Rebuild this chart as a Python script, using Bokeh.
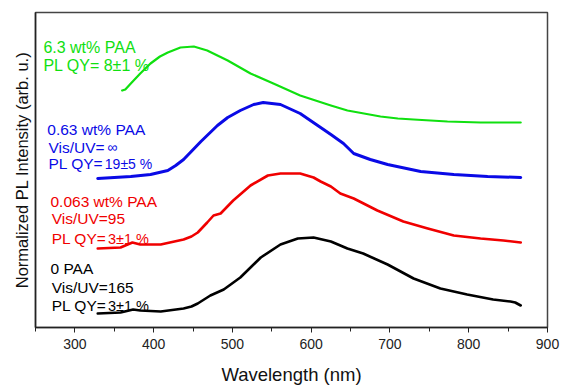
from bokeh.plotting import figure
from bokeh.models import Label, FixedTicker, Range1d
from bokeh.embed import file_html
from bokeh.resources import INLINE

# ---- data (wavelength in nm, normalized PL intensity in arb. u., curves offset) ----
green_nm = [360, 364, 371, 383, 396, 408, 418, 434, 451, 468, 494, 523, 552, 586, 625, 646, 667, 688, 710, 730, 773, 815, 866]
green_I = [2.37, 2.38, 2.44, 2.54, 2.64, 2.71, 2.75, 2.80, 2.81, 2.77, 2.67, 2.54, 2.44, 2.32, 2.22, 2.17, 2.14, 2.11, 2.09, 2.08, 2.06, 2.05, 2.05]

blue_nm = [329, 371, 396, 418, 428, 438, 449, 460, 481, 494, 510, 527, 539, 561, 586, 612, 625, 641, 654, 675, 697, 739, 781, 824, 866]
blue_I = [1.49, 1.51, 1.53, 1.57, 1.62, 1.68, 1.77, 1.86, 2.02, 2.10, 2.17, 2.23, 2.25, 2.23, 2.14, 2.00, 1.93, 1.84, 1.74, 1.68, 1.63, 1.56, 1.53, 1.51, 1.50]

red_nm = [329, 358, 373, 383, 409, 438, 448, 456, 468, 476, 485, 501, 523, 545, 561, 586, 603, 612, 625, 637, 654, 684, 717, 748, 781, 815, 844, 866]
red_I = [0.79, 0.80, 0.85, 0.83, 0.83, 0.88, 0.91, 0.95, 1.05, 1.12, 1.14, 1.27, 1.42, 1.52, 1.54, 1.54, 1.50, 1.46, 1.41, 1.34, 1.29, 1.17, 1.06, 0.99, 0.92, 0.89, 0.87, 0.85]

black_nm = [329, 358, 374, 383, 409, 438, 448, 456, 472, 489, 510, 536, 561, 583, 603, 625, 646, 666, 697, 730, 764, 798, 831, 853, 859, 866]
black_I = [0.14, 0.15, 0.18, 0.17, 0.16, 0.19, 0.21, 0.24, 0.32, 0.38, 0.50, 0.70, 0.83, 0.89, 0.90, 0.86, 0.79, 0.74, 0.63, 0.49, 0.39, 0.33, 0.28, 0.26, 0.25, 0.22]

x_ticks = [300, 400, 500, 600, 700, 800, 900]
x_minor = [250, 350, 450, 550, 650, 750, 850]

series = [
    (green_nm, green_I, "#10e010", 2.2),
    (blue_nm, blue_I, "#0a0ae6", 3.0),
    (red_nm, red_I, "#f00000", 2.6),
    (black_nm, black_I, "#000000", 2.6),
]

FONT = "Liberation Sans"

p = figure(width=561, height=387, output_backend="svg", toolbar_location=None,
           x_range=Range1d(250, 900), y_range=Range1d(0, 3.15),
           min_border_left=35, min_border_right=14, min_border_top=12, min_border_bottom=60)
p.background_fill_color = "white"
p.border_fill_color = "white"
p.xgrid.visible = False
p.ygrid.visible = False
p.outline_line_color = "#444444"
p.outline_line_width = 1.5

for xs, ys, col, w in series:
    p.line(xs, ys, line_color=col, line_width=w, line_join="round", line_cap="round")

# x axis
p.xaxis.ticker = FixedTicker(ticks=x_ticks, minor_ticks=x_minor)
p.xaxis.major_tick_out = 5
p.xaxis.major_tick_in = 0
p.xaxis.minor_tick_out = 4
p.xaxis.minor_tick_in = 0
p.xaxis.axis_line_color = "#222222"
p.xaxis.axis_line_width = 1.5
p.xaxis.major_tick_line_color = "#222222"
p.xaxis.minor_tick_line_color = "#222222"
p.xaxis.major_label_text_font = FONT
p.xaxis.major_label_text_font_size = "14px"
p.xaxis.major_label_text_color = "#222222"
p.xaxis.major_label_standoff = 6
p.xaxis.axis_label = "Wavelength (nm)"
p.xaxis.axis_label_text_font = FONT
p.xaxis.axis_label_text_font_size = "18.5px"
p.xaxis.axis_label_text_font_style = "normal"
p.xaxis.axis_label_text_color = "#111111"
p.xaxis.axis_label_standoff = 12

# y axis (no ticks)
p.yaxis.ticker = FixedTicker(ticks=[])
p.yaxis.axis_line_color = "#222222"
p.yaxis.axis_line_width = 1.5
p.yaxis.axis_label = "Normalized PL Intensity (arb. u.)"
p.yaxis.axis_label_text_font = FONT
p.yaxis.axis_label_text_font_size = "16.5px"
p.yaxis.axis_label_text_font_style = "normal"
p.yaxis.axis_label_text_color = "#111111"
p.yaxis.axis_label_standoff = 5

# annotations: (x, y, text, color, size)
labels = [
    (260, 2.80, "6.3 wt% PAA", "#10e010", "16px"),
    (260, 2.62, "PL QY= 8\u00b11 %", "#10e010", "16px"),
    (265, 1.98, "0.63 wt% PAA", "#0a0ae6", "15.5px"),
    (266.5, 1.80, "Vis/UV=", "#0a0ae6", "15.5px"),
    (341, 1.81, "\u221e", "#0a0ae6", "14px"),
    (266.5, 1.64, "PL QY=", "#0a0ae6", "15.5px"),
    (338, 1.64, "19\u00b15 %", "#0a0ae6", "14px"),
    (269, 1.26, "0.063 wt% PAA", "#f00000", "15.5px"),
    (270.5, 1.09, "Vis/UV=95", "#f00000", "15.5px"),
    (270.5, 0.89, "PL QY=", "#f00000", "15.5px"),
    (342, 0.89, "3\u00b11 %", "#f00000", "14.5px"),
    (269, 0.59, "0 PAA", "#000000", "15.5px"),
    (270.5, 0.40, "Vis/UV=165", "#000000", "15.5px"),
    (270.5, 0.22, "PL QY=", "#000000", "15.5px"),
    (342, 0.22, "3\u00b11 %", "#000000", "14.5px"),
]
for x, y, t, c, s in labels:
    p.add_layout(Label(x=x, y=y, text=t, text_color=c, text_font=FONT, text_font_size=s,
                       text_align="left", text_baseline="alphabetic"))

open("out.html", "w").write(file_html(p, INLINE))
